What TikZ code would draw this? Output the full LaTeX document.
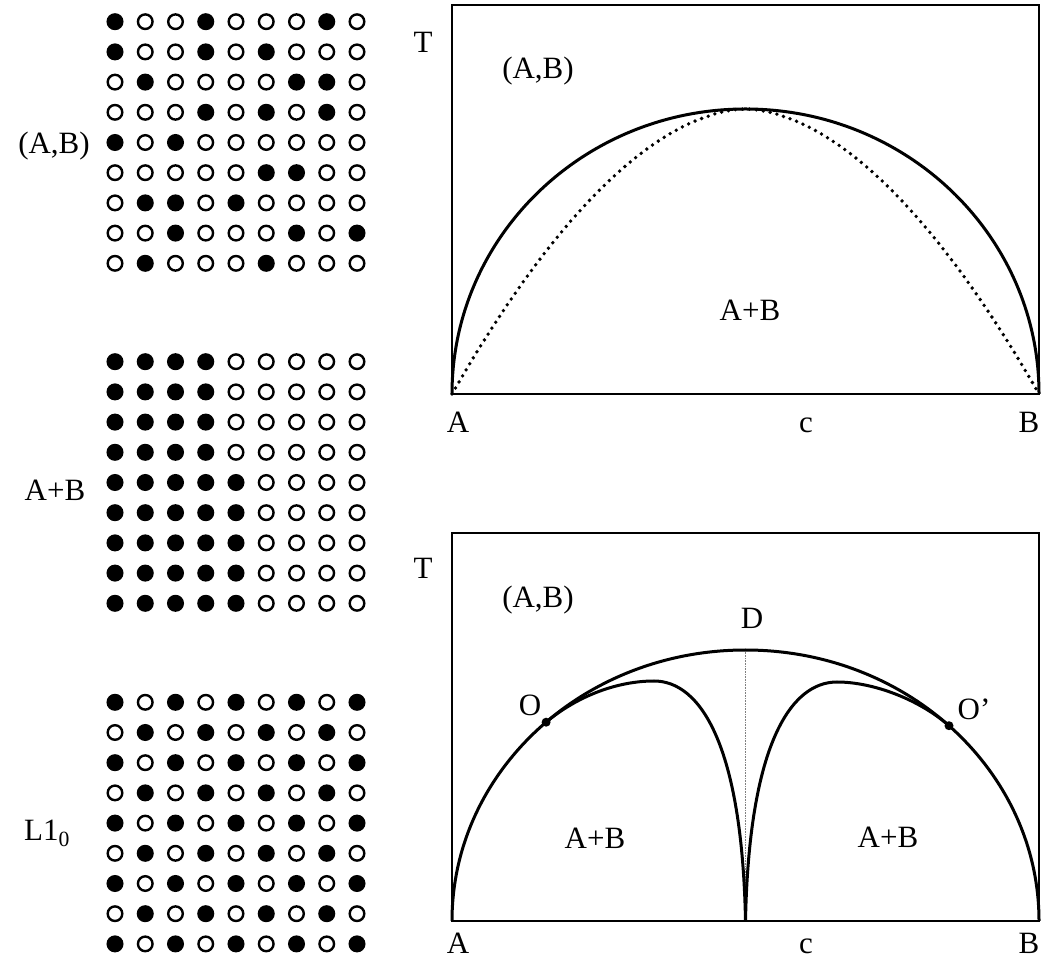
\documentclass[tikz,border=0pt]{standalone}
\usepackage{fontspec}
\setmainfont{Liberation Serif}
\usetikzlibrary{positioning}

\begin{document}
\begin{tikzpicture}[
    x=1pt, y=1pt,
    lbl/.style={font=\fontsize{31}{36}\selectfont, inner sep=0pt, text height=21pt, text depth=0pt},
    site/.style={circle, draw=black, line width=2.4pt, minimum size=14.6pt, inner sep=0pt},
    occ/.style={site, fill=black},
    frame/.style={line width=2pt},
    curve/.style={line width=3pt},
    dotcurve/.style={line width=3.8pt, line cap=round, dash pattern=on 0pt off 7pt},
    guide/.style={gray, line width=0.6pt, densely dotted}
  ]
  \useasboundingbox (0,0) rectangle (1041,959);

  % disordered (A,B)
  \foreach \row [count=\r] in {{1,0,0,1,0,0,0,1,0},{1,0,0,1,0,1,0,0,0},{0,1,0,0,0,0,1,1,0},
      {0,0,0,1,0,1,0,1,0},{1,0,1,0,0,0,0,0,0},{0,0,0,0,0,1,1,0,0},
      {0,1,1,0,1,0,0,0,0},{0,0,1,0,0,0,1,0,1},{0,1,0,0,0,1,0,0,0}}
    \foreach \v [count=\c] in \row {
      \ifnum\v=1
        \node[occ] (dis-\r-\c) at ({115+30.25*(\c-1)}, {937.3-30.2*(\r-1)}) {};
      \else
        \node[site] (dis-\r-\c) at ({115+30.25*(\c-1)}, {937.3-30.2*(\r-1)}) {};
      \fi
    }
  \node[lbl] (lab-dis) at (54,816) {(A,B)};

  % two phases A+B
  \foreach \r in {1,...,9}
    \foreach \c in {1,...,9} {
      \pgfmathtruncatemacro\lim{\r<5 ? 4 : 5}
      \ifnum\c>\lim
        \node[site] (sep-\r-\c) at ({115+30.25*(\c-1)}, {597.3-30.2*(\r-1)}) {};
      \else
        \node[occ] (sep-\r-\c) at ({115+30.25*(\c-1)}, {597.3-30.2*(\r-1)}) {};
      \fi
    }
  \node[lbl] (lab-sep) at (55,469) {A+B};

  % ordered L1_0
  \foreach \r in {1,...,9}
    \foreach \c in {1,...,9} {
      \pgfmathtruncatemacro\odd{mod(\r+\c,2)}
      \ifnum\odd=0
        \node[occ] (ord-\r-\c) at ({115+30.25*(\c-1)}, {256.7-30.2*(\r-1)}) {};
      \else
        \node[site] (ord-\r-\c) at ({115+30.25*(\c-1)}, {256.7-30.2*(\r-1)}) {};
      \fi
    }
  \node[lbl] (lab-ord) at (47,129) {L1\textsubscript{0}};

  % upper diagram
  \coordinate (A1) at (452,565);
  \draw[frame] (A1) rectangle (1039,954);
  \draw[curve] (A1) arc[start angle=180, end angle=0, x radius=293.5, y radius=285];
  \draw[dotcurve] plot[domain=-1:1, samples=100] ({745.5+293.5*\x}, {565+285*(1-abs(\x)^1.8)});
  \node[lbl] (T1) at (423,917) {T};
  \node[lbl] (dis1) at (538,891) {(A,B)};
  \node[lbl] (two1) at (750,649) {A+B};
  \node[lbl] (a1) at (458,537) {A};
  \node[lbl] (c1) at (806,537) {c};
  \node[lbl] (b1) at (1029,537) {B};

  % lower diagram
  \coordinate (A2) at (452,38);
  \coordinate (D) at (745.5,309);
  \coordinate (cusp) at (745.5,38);
  \coordinate (O) at (546.1,236.8);
  \coordinate (Op) at (949.0,233.3);
  \draw[frame] (A2) rectangle (1039,426);
  \draw[guide] (D) -- (cusp);
  \draw[curve] (A2) arc[start angle=180, end angle=0, x radius=293.5, y radius=271];
  \draw[curve] (O) .. controls (578,263.5) and (618,278) .. (654,278)
    .. controls (700,278) and (742,215) .. (cusp);
  \draw[curve] (cusp) .. controls (749,215) and (791,277) .. (837,277)
    .. controls (873,277) and (919,259.7) .. (Op);
  \fill (O) circle (4.5);
  \fill (Op) circle (4.5);
  \node[lbl] (T2) at (423,391) {T};
  \node[lbl] (dis2) at (538,362) {(A,B)};
  \node[lbl] (Dlab) at (752,341) {D};
  \node[lbl] (Olab) at (530,254) {O};
  \node[lbl] (Oplab) at (974,250) {O’};
  \node[lbl] (two2) at (595,121) {A+B};
  \node[lbl] (two3) at (888,122) {A+B};
  \node[lbl] (a2) at (458,16) {A};
  \node[lbl] (c2) at (806,16) {c};
  \node[lbl] (b2) at (1029,16) {B};
\end{tikzpicture}
\end{document}
